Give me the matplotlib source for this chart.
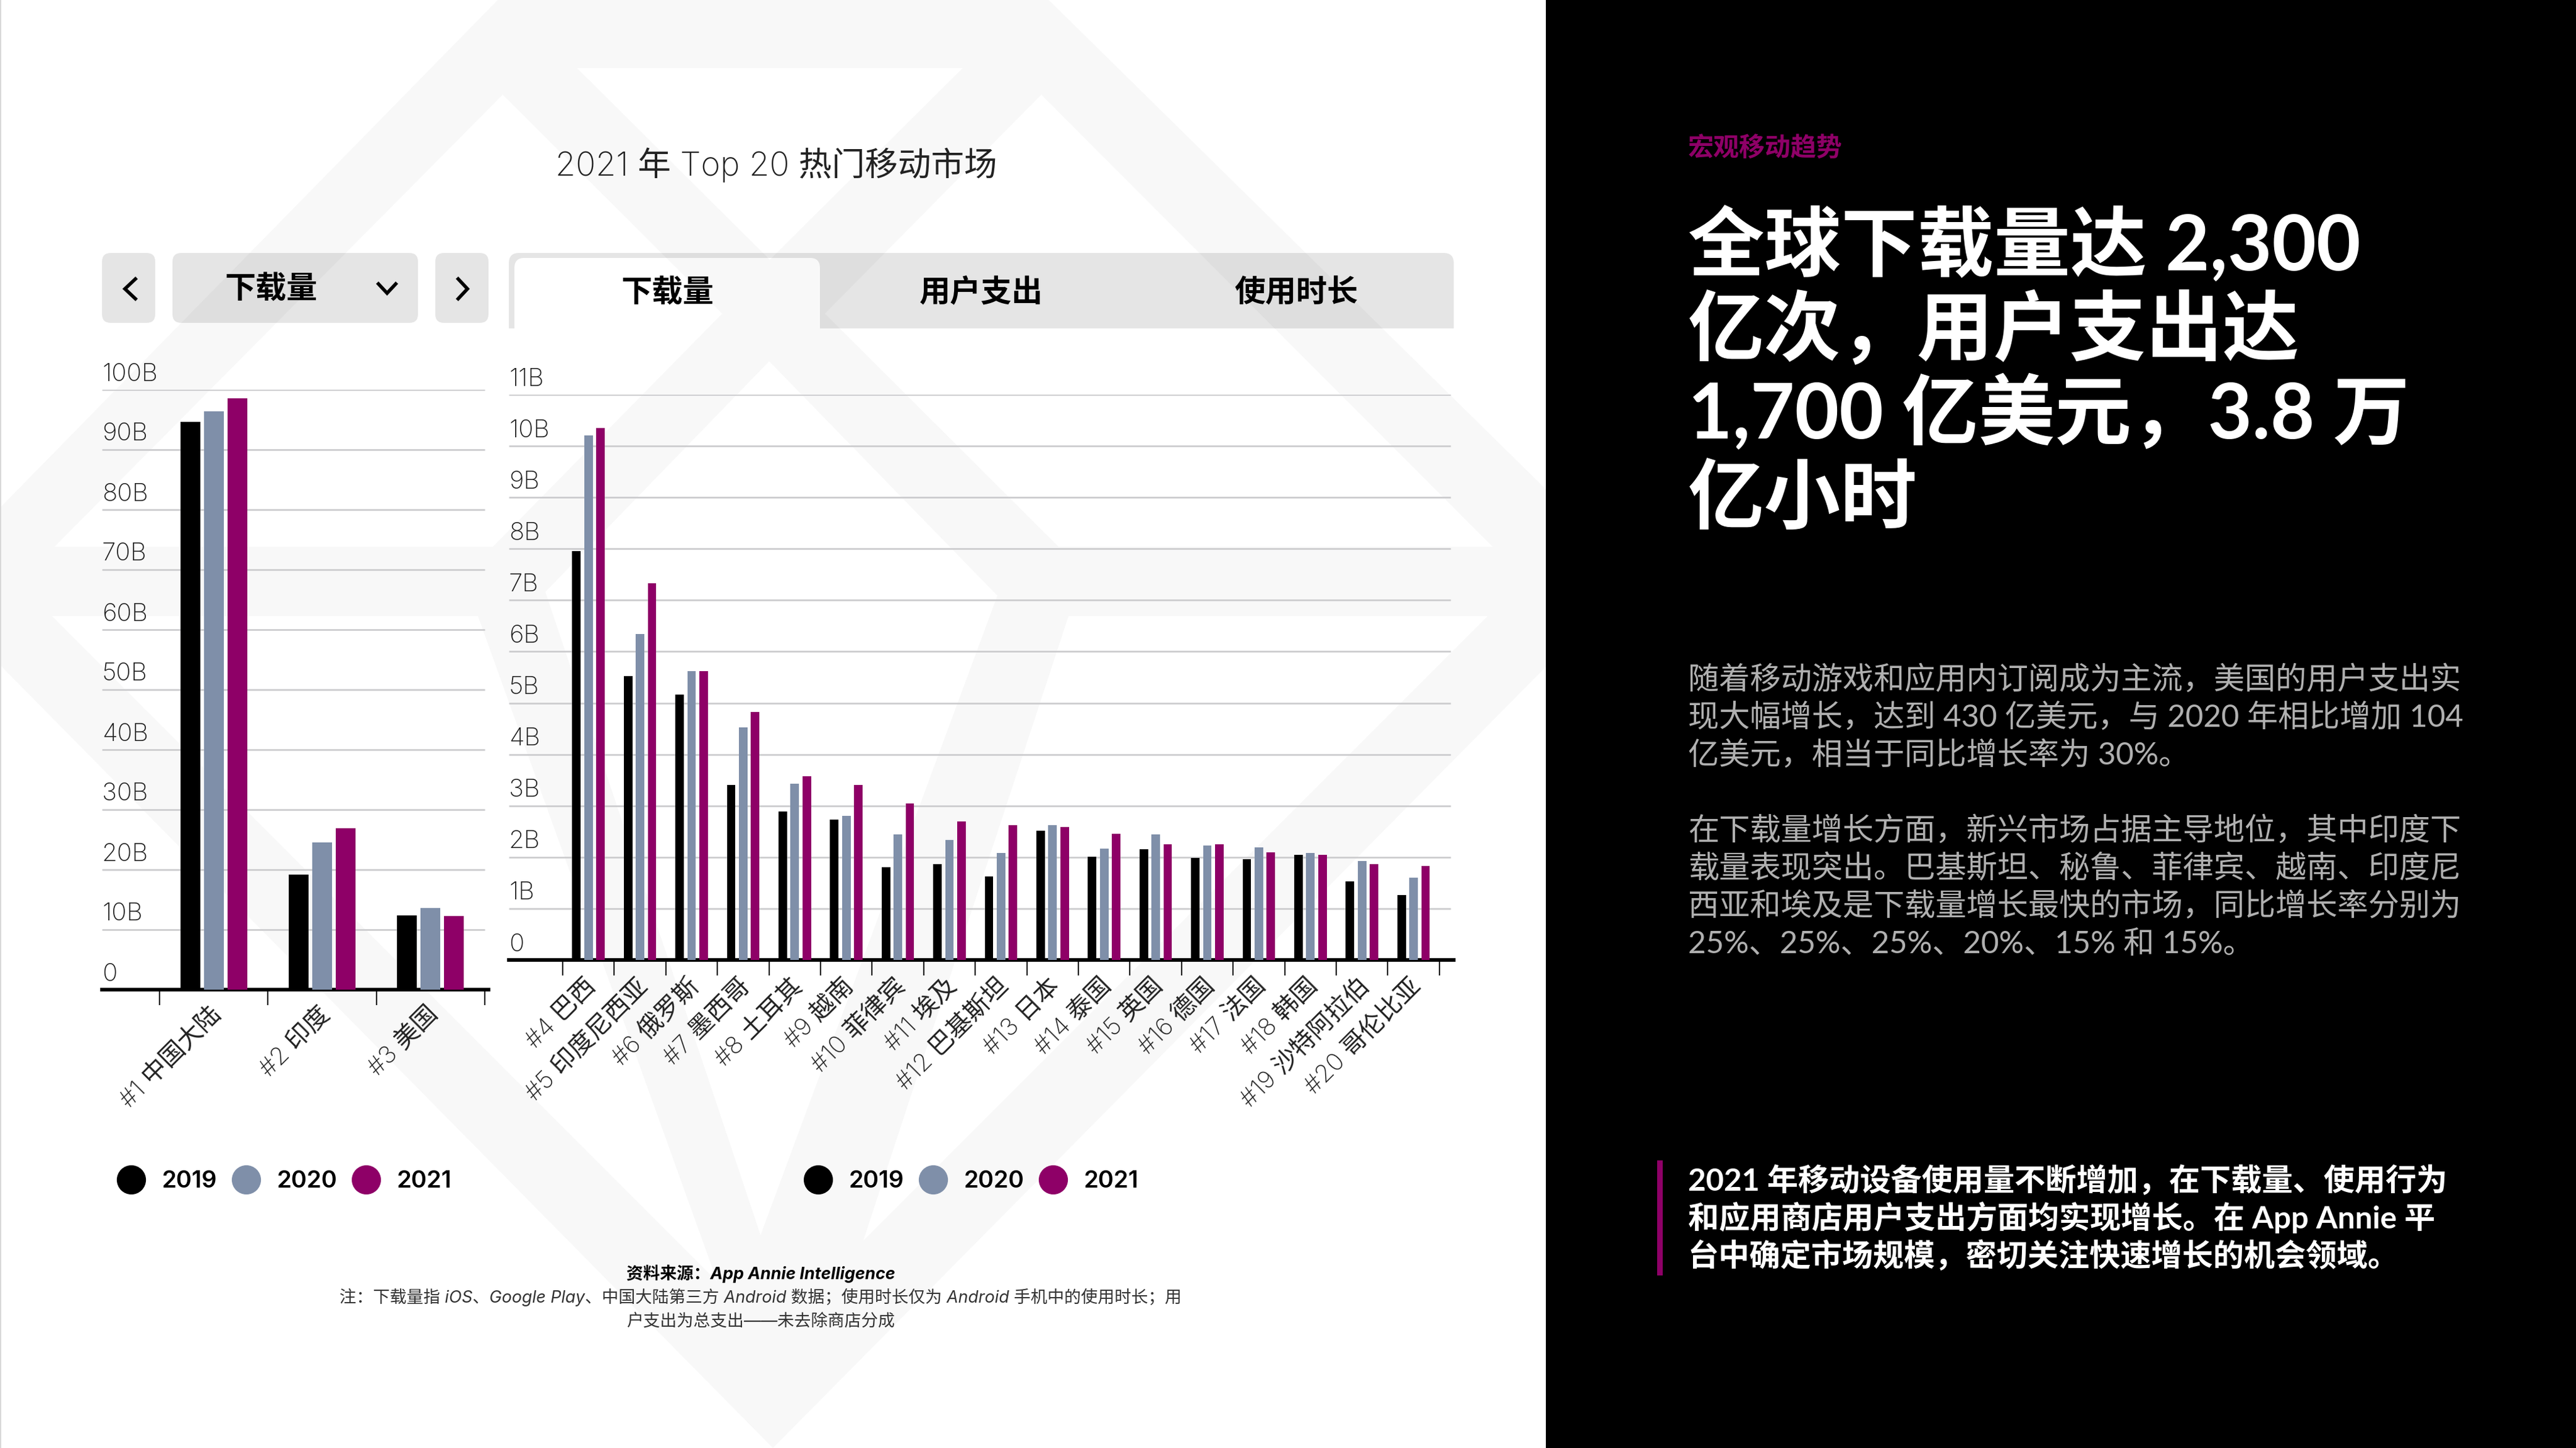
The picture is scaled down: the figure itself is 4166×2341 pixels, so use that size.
import matplotlib
matplotlib.use('Agg')
import matplotlib.pyplot as plt
from matplotlib.lines import Line2D
from matplotlib.patches import FancyBboxPatch, PathPatch, Polygon, Rectangle
from matplotlib.path import Path
import numpy as np

W, H = 4166, 2341
FONT = ['Inter', 'Noto Sans CJK SC', 'DejaVu Sans']
PANEL_FONT = ['Lato', 'Noto Sans CJK SC', 'DejaVu Sans']
plt.rcParams['font.family'] = FONT

# left chart, billions
top3_labels = ['#1 中国大陆', '#2 印度', '#3 美国']
top3_2019 = [94.6, 19.2, 12.4]
top3_2020 = [96.4, 24.5, 13.6]
top3_2021 = [98.6, 26.9, 12.3]
top3_ticks = [0, 10, 20, 30, 40, 50, 60, 70, 80, 90, 100]
top3_ticklabels = ['0', '10B', '20B', '30B', '40B', '50B', '60B', '70B', '80B', '90B', '100B']

# right chart, billions
rest_labels = ['#4 巴西', '#5 印度尼西亚', '#6 俄罗斯', '#7 墨西哥', '#8 土耳其', '#9 越南',
               '#10 菲律宾', '#11 埃及', '#12 巴基斯坦', '#13 日本', '#14 泰国', '#15 英国',
               '#16 德国', '#17 法国', '#18 韩国', '#19 沙特阿拉伯', '#20 哥伦比亚']
rest_2019 = [7.96, 5.53, 5.16, 3.40, 2.89, 2.73, 1.80, 1.87, 1.63, 2.52, 2.01, 2.16, 1.98, 1.96, 2.05, 1.53, 1.26]
rest_2020 = [10.2, 6.34, 5.62, 4.53, 3.43, 2.80, 2.44, 2.34, 2.08, 2.62, 2.17, 2.44, 2.23, 2.19, 2.08, 1.92, 1.60]
rest_2021 = [10.35, 7.33, 5.62, 4.83, 3.58, 3.40, 3.05, 2.69, 2.62, 2.59, 2.46, 2.25, 2.25, 2.10, 2.05, 1.87, 1.83]
rest_ticks = list(range(12))
rest_ticklabels = ['0', '1B', '2B', '3B', '4B', '5B', '6B', '7B', '8B', '9B', '10B', '11B']

years = ['2019', '2020', '2021']
colors = ['#000000', '#7f8fa9', '#8e0067']

tabs = ['下载量', '用户支出', '使用时长']
title = '2021 年 Top 20 热门移动市场'
kicker = '宏观移动趋势'
headline = ['全球下载量达 2,300', '亿次，用户支出达', '1,700 亿美元，3.8 万', '亿小时']
body = ['随着移动游戏和应用内订阅成为主流，美国的用户支出实',
        '现大幅增长，达到 430 亿美元，与 2020 年相比增加 104',
        '亿美元，相当于同比增长率为 30%。',
        '',
        '在下载量增长方面，新兴市场占据主导地位，其中印度下',
        '载量表现突出。巴基斯坦、秘鲁、菲律宾、越南、印度尼',
        '西亚和埃及是下载量增长最快的市场，同比增长率分别为',
        '25%、25%、25%、20%、15% 和 15%。']
callout = ['2021 年移动设备使用量不断增加，在下载量、使用行为',
           '和应用商店用户支出方面均实现增长。在 App Annie 平',
           '台中确定市场规模，密切关注快速增长的机会领域。']
source = '资料来源：App Annie Intelligence'
note = ['注：下载量指 iOS、Google Play、中国大陆第三方 Android 数据；使用时长仅为 Android 手机中的使用时长；用',
        '户支出为总支出——未去除商店分成']

fig = plt.figure(figsize=(W / 100, H / 100), dpi=100, facecolor='white')
bg = fig.add_axes([0, 0, 1, 1])
bg.set_xlim(0, W)
bg.set_ylim(H, 0)
bg.axis('off')

# watermark: grey diamond with white holes, traced in pixels
bg.add_patch(Polygon([(805, 0), (1696, 0), (2500, 791), (2500, 1078), (1250, 2341), (0, 1075), (0, 821)],
                     closed=True, fc='#f8f8f8', ec='none', zorder=0))
holes = [
    [(933, 110), (1557, 110), (1245, 420)],
    [(813, 153), (1168, 507), (797, 884), (88, 884)],
    [(1684, 153), (2414, 884), (1712, 884), (1334, 507)],
    [(1244, 584), (1613, 963), (1230, 1997), (882, 957)],
    [(84, 996), (773, 996), (1160, 2072)],
    [(1728, 996), (2406, 996), (1396, 2006)],
]
for h in holes:
    bg.add_patch(Polygon(h, closed=True, fc='white', ec='none', zorder=0.5))

bg.add_patch(Rectangle((0, 0), 2, H, fc='#d8d8d8', ec='none', zorder=1))
bg.add_patch(Rectangle((2500, 0), W - 2500, H, fc='black', ec='none', zorder=1))


def button(x0, x1, y0=409, y1=522):
    bg.add_patch(FancyBboxPatch((x0 + 12, y0 + 12), x1 - x0 - 24, y1 - y0 - 24,
                                boxstyle='round,pad=12,rounding_size=14', fc='black', alpha=0.1, ec='none', zorder=2))


def tab_bar():
    # outer bar with the selected tab cut out so the watermark still shows
    x0, x1, y0, y1 = 823, 2351, 409, 531
    a0, a1, b0 = 832, 1326, 417
    r = 16
    verts = [(x0, y1), (x0, y0 + r), (x0, y0), (x0 + r, y0), (x1 - r, y0), (x1, y0), (x1, y0 + r), (x1, y1), (x0, y1),
             (a0, y1), (a1, y1), (a1, b0 + r), (a1, b0), (a1 - r, b0), (a0 + r, b0), (a0, b0), (a0, b0 + r), (a0, y1)]
    codes = [Path.MOVETO, Path.LINETO, Path.CURVE3, Path.CURVE3, Path.LINETO, Path.CURVE3, Path.CURVE3, Path.LINETO, Path.CLOSEPOLY,
             Path.MOVETO, Path.LINETO, Path.LINETO, Path.CURVE3, Path.CURVE3, Path.LINETO, Path.CURVE3, Path.CURVE3, Path.CLOSEPOLY]
    bg.add_patch(PathPatch(Path(verts, codes), fc='black', alpha=0.1, ec='none', zorder=2))


button(165, 251)
button(279, 676)
button(704, 790)
tab_bar()

bg.plot([219, 202, 219], [451, 467, 483], color='black', lw=4, zorder=3, solid_joinstyle='miter')
bg.plot([741, 756, 741], [451, 467, 483], color='black', lw=4, zorder=3, solid_joinstyle='miter')
bg.plot([612, 626, 640], [459, 474, 459], color='black', lw=4, zorder=3, solid_joinstyle='miter')

bg.text(438, 482, tabs[0], fontsize=36, fontweight='bold', ha='center', va='baseline', zorder=3)
for name, cx in zip(tabs, [1079, 1587, 2096]):
    bg.text(cx, 488, name, fontsize=36, fontweight='bold', ha='center', va='baseline', zorder=3)

bg.text(1255, 284, title, fontsize=38.5, fontweight='light', color='#222222', ha='center', va='baseline', zorder=3)


def draw_bars(rect, series, labels, ticks, ticklabels, ymax, xlim, width, step, grid_end, lab_dx, lab_dy):
    x0, x1, y0, y1 = rect  # pixels: left, right, top value, baseline
    ax = fig.add_axes([x0 / W, 1 - y1 / H, (x1 - x0) / W, (y1 - y0) / H])
    ax.patch.set_alpha(0)
    ax.set_ylim(0, ymax)
    ax.set_xlim(*xlim)
    n = len(labels)
    pos = np.arange(n)
    for k, vals in enumerate(series):
        ax.bar(pos + (k - 1) * step, vals, width, color=colors[k], zorder=3)

    ax.hlines(ticks[1:], 0, grid_end, transform=ax.get_yaxis_transform(), color='#cdcdcf', lw=2.0, zorder=1)
    for t, s in zip(ticks, ticklabels):
        ax.annotate(s, xy=(0, t), xycoords=ax.get_yaxis_transform(), xytext=(0, 18), textcoords='offset points',
                    fontsize=29, fontweight='light', color='#222222', ha='left', va='center')

    for s in ['top', 'left', 'right']:
        ax.spines[s].set_visible(False)
    ax.spines['bottom'].set_linewidth(4.2)
    ax.set_yticks([])
    ax.set_xticks(np.arange(n + 1) - 0.5)
    ax.set_xticklabels([])
    ax.tick_params(axis='x', length=18, width=1.6, color='#222222')
    for i, s in enumerate(labels):
        ax.annotate(s, xy=(i, 0), xycoords=('data', 'axes fraction'), xytext=(lab_dx, lab_dy), textcoords='offset points',
                    fontsize=29, fontweight='light', color='#222222', rotation=45, rotation_mode='anchor', ha='right', va='top')
    return ax


# left chart: categories 175 px wide, first tick at 258
l_cat = 175.3
draw_bars((165, 790, 630, 1600), [top3_2019, top3_2020, top3_2021], top3_labels, top3_ticks, top3_ticklabels, 100,
          ((165 - 258) / l_cat - 0.5, (790 - 258) / l_cat - 0.5), 32 / l_cat, 38 / l_cat, (784 - 165) / (790 - 165), -5, -15)

# right chart: categories 83.4 px wide, first tick at 910
r_cat = 83.4
draw_bars((823, 2351, 638, 1552), [rest_2019, rest_2020, rest_2021], rest_labels, rest_ticks, rest_ticklabels, 11,
          ((823 - 910) / r_cat - 0.5, (2351 - 910) / r_cat - 0.5), 13.8 / r_cat, 19.4 / r_cat, (2346 - 823) / (2351 - 823), -5, -17)

# legends
for x_left in [189, 1300]:
    handles = [Line2D([], [], marker='o', ls='none', ms=33, color=c) for c in colors]
    fig.legend(handles, years, loc='center left', bbox_to_anchor=(x_left / W, 1 - 1910 / H), ncol=3, frameon=False,
               prop={'size': 27.5, 'weight': 'semibold'}, handlelength=1.2, handletextpad=0.7,
               columnspacing=0.62, borderpad=0, borderaxespad=0)

# footer
bg.text(1230, 2059, source, fontsize=19.5, style='italic', fontweight='bold', ha='center', va='center', zorder=3)
for line, yy in zip(note, [2097, 2136]):
    bg.text(1230, yy, line, fontsize=19.5, style='italic', color='#333333', ha='center', va='center', zorder=3)

# right panel
bg.text(2730, 253, kicker, fontsize=30, fontweight='bold', color=colors[2], family=PANEL_FONT, ha='left', va='baseline', zorder=3)
for i, line in enumerate(headline):
    bg.text(2730, 437 + i * 136, line, fontsize=89, fontweight='bold', color='white', family=PANEL_FONT, ha='left', va='baseline', zorder=3)
for i, line in enumerate(body):
    bg.text(2730, 1114 + i * 61, line, fontsize=36, color='#b0b0b0', family=PANEL_FONT, ha='left', va='baseline', zorder=3)
bg.add_patch(Rectangle((2680, 1876), 9, 186, fc=colors[2], ec='none', zorder=3))
for i, line in enumerate(callout):
    bg.text(2730, 1925 + i * 61, line, fontsize=36, fontweight='bold', color='white', family=PANEL_FONT, ha='left', va='baseline', zorder=3)

fig.savefig('out.png', dpi=100)
